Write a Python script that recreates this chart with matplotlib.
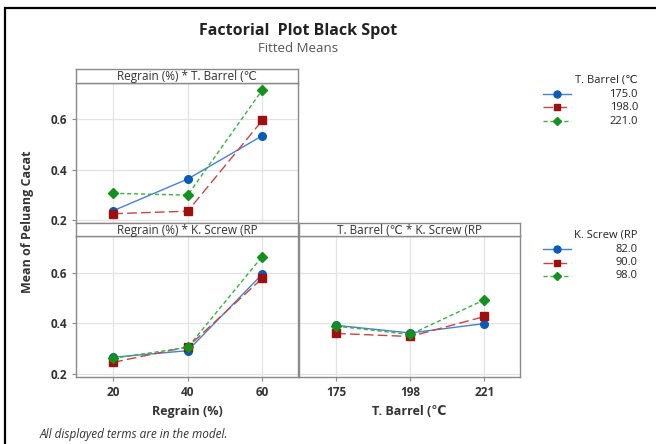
import matplotlib
matplotlib.use("Agg")
import matplotlib.pyplot as plt
from matplotlib.lines import Line2D
from matplotlib.patches import Rectangle

plt.rcParams['font.family'] = ['Open Sans', 'DejaVu Sans']

# Data
regrain = [20, 40, 60]
t_barrel = [175, 198, 221]
t_barrel_labels = ['175.0', '198.0', '221.0']
k_screw_labels = ['82.0', '90.0', '98.0']

# Regrain (%) * T. Barrel
rg_tb_175 = [0.237, 0.363, 0.535]
rg_tb_198 = [0.225, 0.235, 0.596]
rg_tb_221 = [0.306, 0.299, 0.717]

# Regrain (%) * K. Screw
rg_ks_82 = [0.266, 0.292, 0.594]
rg_ks_90 = [0.246, 0.307, 0.578]
rg_ks_98 = [0.262, 0.305, 0.664]

# T. Barrel * K. Screw
tb_ks_82 = [0.392, 0.362, 0.399]
tb_ks_90 = [0.360, 0.348, 0.427]
tb_ks_98 = [0.389, 0.356, 0.493]

W, H = 656, 444
fig = plt.figure(figsize=(W / 100, H / 100), dpi=100)


def rect(x0, y0, x1, y1):
    # pixel box (top-left origin) -> figure fraction
    return [x0 / W, 1 - y1 / H, (x1 - x0) / W, (y1 - y0) / H]


styles = [
    dict(color='#0a5bb5', ls='-', marker='o', ms=5.5, lw=1.0),
    dict(color='#9c1010', ls=(0, (7, 3)), marker='s', ms=5.5, lw=1.0),
    dict(color='#14901e', ls=(0, (3, 2)), marker='D', ms=5, lw=1.0),
]
line_colors = ['#4a80cc', '#c04848', '#3cae44']

frame_col = '#8a8a8a'
text_col = '#333333'
ylim = (0.188, 0.745)


def panel(box, strip_box, title, xs, series, xticks, xlabels, show_x, show_y):
    ax = fig.add_axes(rect(*box))
    for s, vals, lc in zip(styles, series, line_colors):
        ax.plot(xs, vals, color=lc, ls=s['ls'], lw=s['lw'], zorder=3)
        ax.plot(xs, vals, ls='none', marker=s['marker'], ms=s['ms'],
                color=s['color'], zorder=4)
    ax.set_xlim(xs[0] - (xs[-1] - xs[0]) * 0.25, xs[-1] + (xs[-1] - xs[0]) * 0.24)
    ax.set_ylim(*ylim)
    ax.set_xticks(xticks)
    ax.set_yticks([0.2, 0.4, 0.6])
    ax.grid(True, color='#e3e3e3', lw=0.9, zorder=0)
    ax.set_axisbelow(True)
    for sp in ax.spines.values():
        sp.set_color(frame_col)
        sp.set_linewidth(1.0)
    ax.tick_params(length=3, color=frame_col, labelsize=8.5, labelcolor=text_col)
    if show_x:
        ax.set_xticklabels(xlabels, fontweight='bold')
    else:
        ax.tick_params(axis='x', length=0, labelbottom=False)
    if show_y:
        ax.set_yticklabels(['0.2', '0.4', '0.6'], fontweight='bold')
    else:
        ax.tick_params(axis='y', length=0, labelleft=False)
    sax = fig.add_axes(rect(*strip_box))
    sax.set_xticks([])
    sax.set_yticks([])
    for sp in sax.spines.values():
        sp.set_color(frame_col)
        sp.set_linewidth(1.0)
    sax.text(0.5, 0.45, title, ha='center', va='center', fontsize=8.5,
             color=text_col, transform=sax.transAxes)
    return ax


panel((76, 83, 298, 223), (76, 69, 298, 83), 'Regrain (%) * T. Barrel (℃',
      regrain, [rg_tb_175, rg_tb_198, rg_tb_221], regrain,
      [str(v) for v in regrain], False, True)
ax_bl = panel((76, 236, 298, 377), (76, 223, 298, 236), 'Regrain (%) * K. Screw (RP',
              regrain, [rg_ks_82, rg_ks_90, rg_ks_98], regrain,
              [str(v) for v in regrain], True, True)
ax_br = panel((299, 236, 520, 377), (299, 223, 520, 236), 'T. Barrel (℃ * K. Screw (RP',
              t_barrel, [tb_ks_82, tb_ks_90, tb_ks_98], t_barrel,
              [str(v) for v in t_barrel], True, False)

ax_bl.set_xlabel('Regrain (%)', fontsize=9, color=text_col, fontweight='bold', labelpad=4)
ax_br.set_xlabel('T. Barrel (℃', fontsize=9, color=text_col, fontweight='bold', labelpad=4)

fig.text(27 / W, 1 - 222 / H, 'Mean of Peluang Cacat', rotation=90, ha='center',
         va='center', fontsize=9, color=text_col, fontweight='bold')

# titles
fig.text(298 / W, 1 - 31 / H, 'Factorial  Plot Black Spot', ha='center', va='center',
         fontsize=11.5, fontweight='bold', color='#222222')
fig.text(298 / W, 1 - 48 / H, 'Fitted Means', ha='center', va='center',
         fontsize=9.5, color='#555555')
fig.text(40 / W, 1 - 434 / H, 'All displayed terms are in the model.', ha='left',
         va='center', fontsize=8.5, style='italic', color='#333333')


# legends
def legend(title, labels, y0):
    fig.text(638 / W, 1 - y0 / H, title, ha='right', va='center', fontsize=8, color='#222222')
    for i, (s, lc, lab) in enumerate(zip(styles, line_colors, labels)):
        y = 1 - (y0 + 14 + i * 13.5) / H
        fig.add_artist(Line2D([543 / W, 571 / W], [y, y], color=lc, ls=s['ls'], lw=1.0))
        fig.add_artist(Line2D([557 / W], [y], marker=s['marker'], ms=s['ms'] - 0.5,
                              color=s['color'], ls='none'))
        fig.text(638 / W, y, lab, ha='right', va='center', fontsize=8, color='#222222')


legend('T. Barrel (℃', t_barrel_labels, 80)
legend('K. Screw (RP', k_screw_labels, 235)

# outer frame
fig.add_artist(Rectangle((5 / W, -0.1), 1.2, 1 - 8 / H + 0.1, transform=fig.transFigure,
                         fill=False, ec='black', lw=1.6))

fig.savefig('out.png', dpi=100)
